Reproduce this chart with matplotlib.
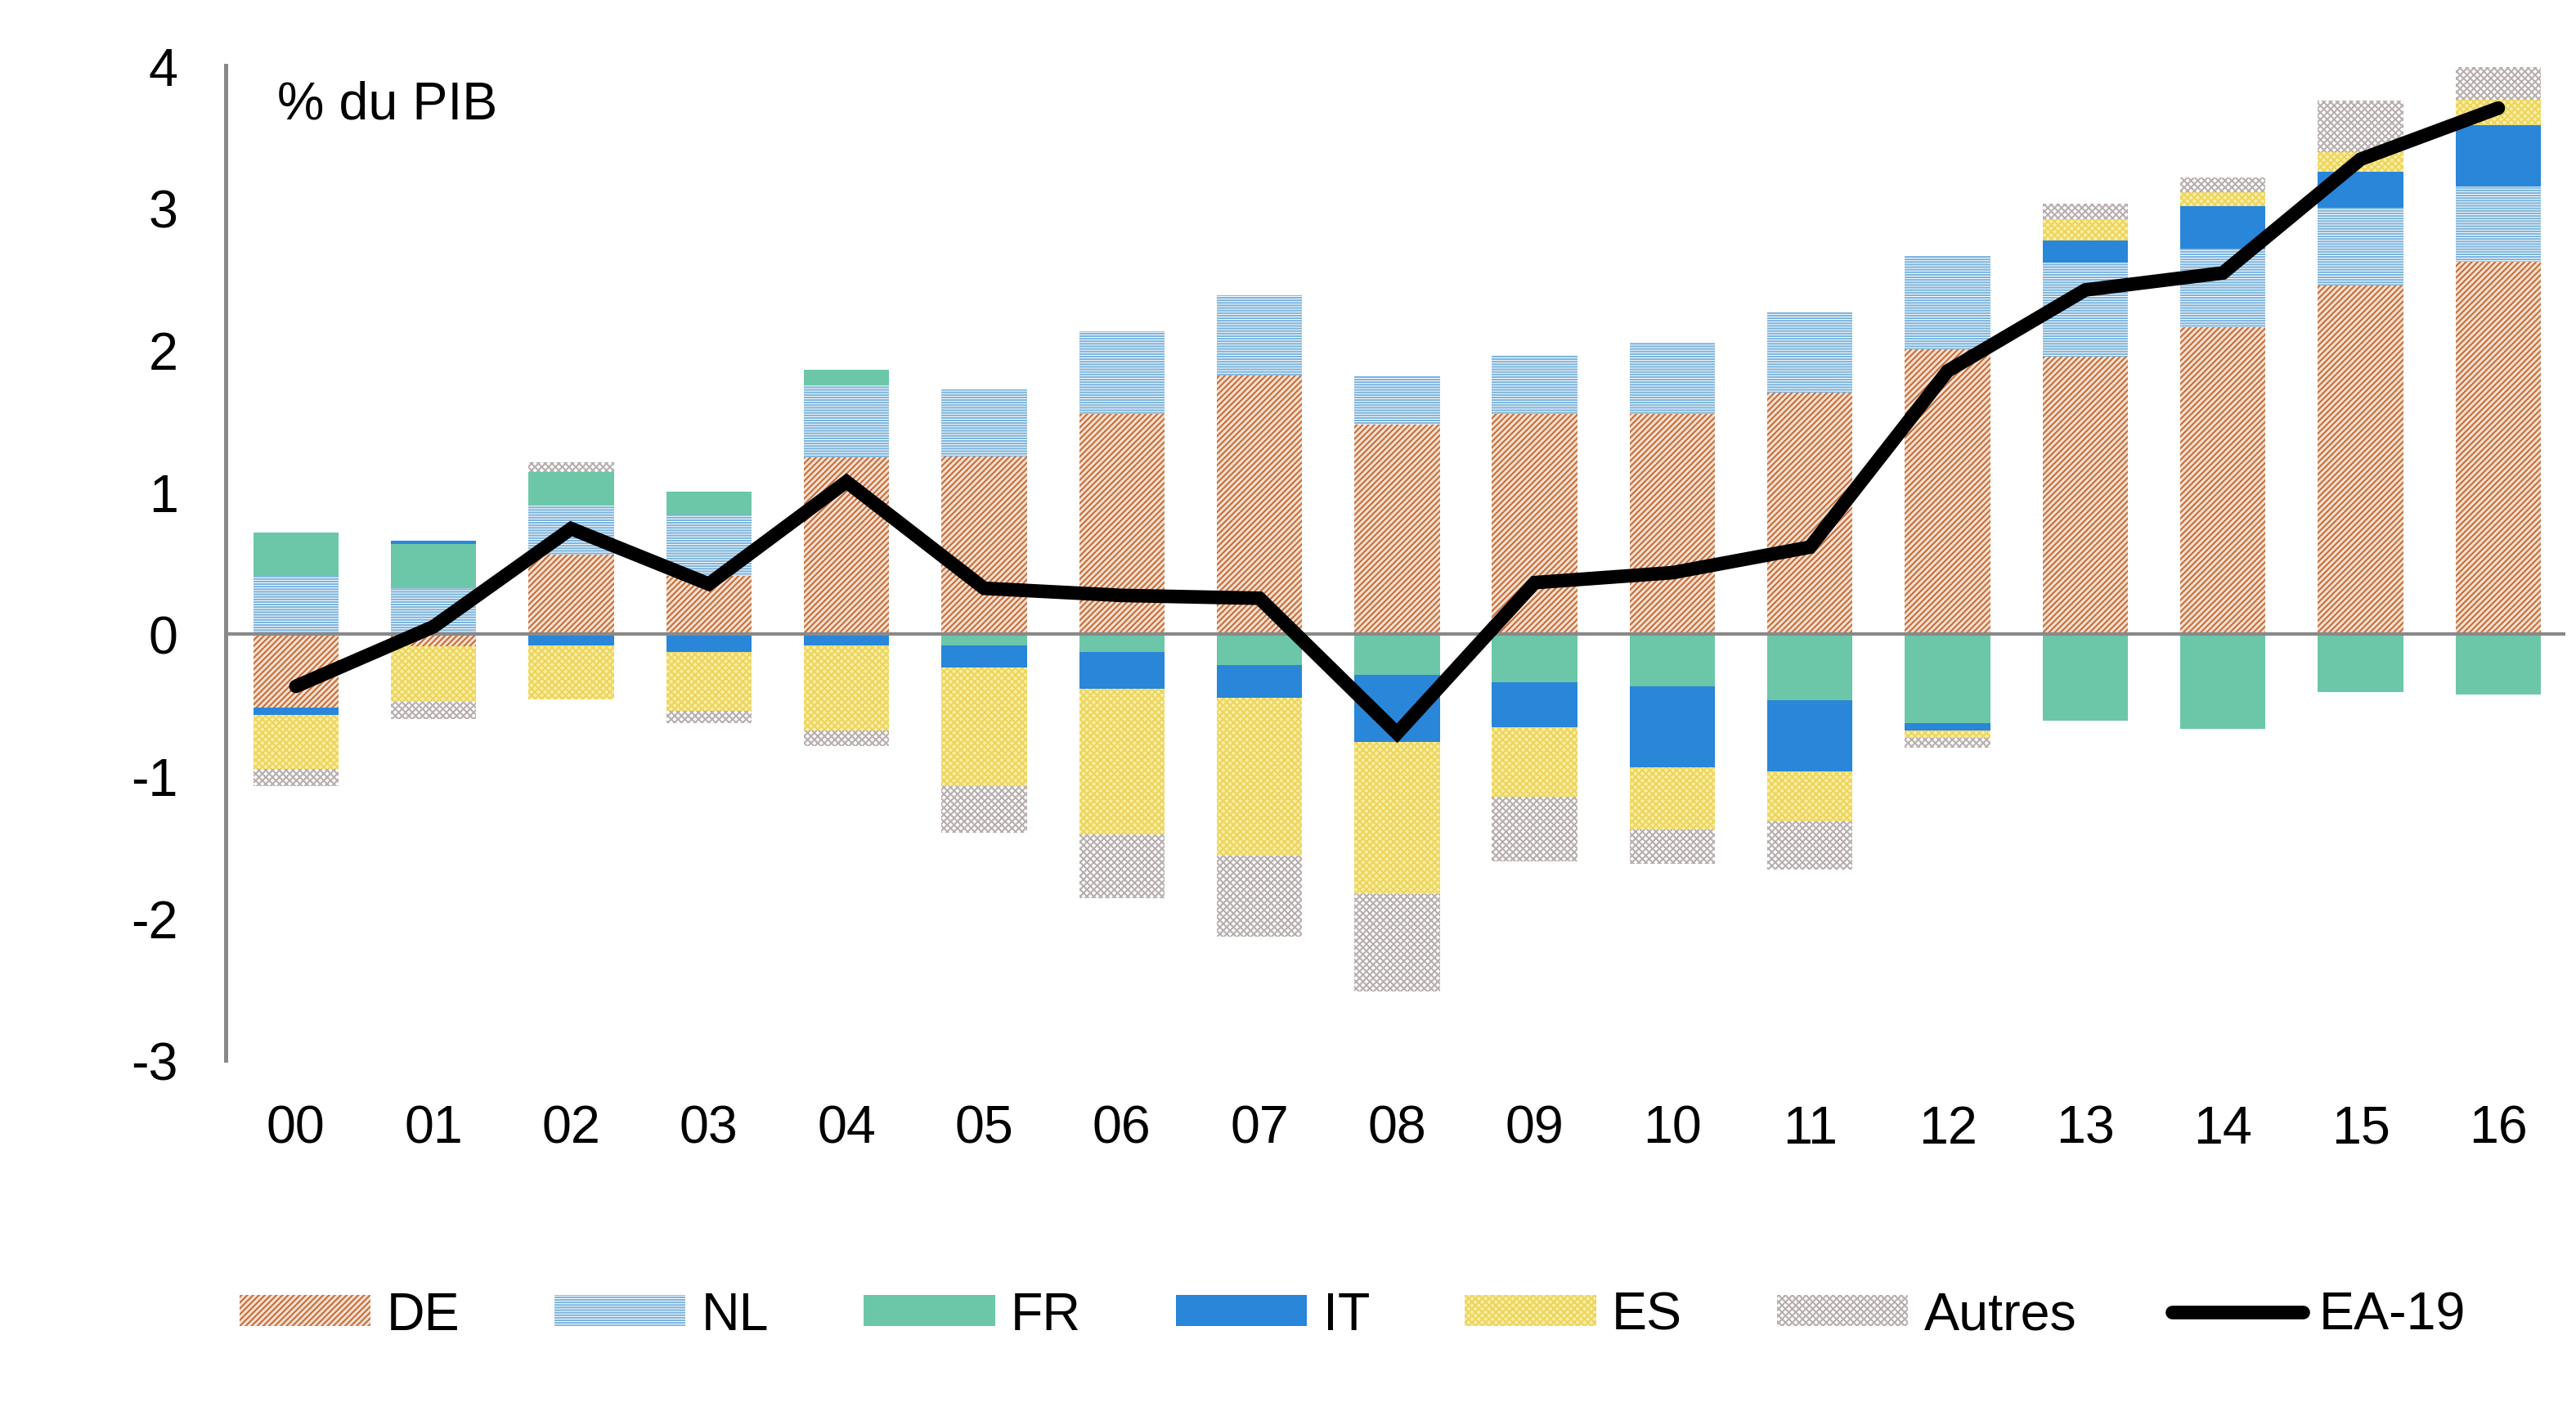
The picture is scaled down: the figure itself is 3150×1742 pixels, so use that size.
import numpy as np
import matplotlib
matplotlib.use('Agg')
import matplotlib.pyplot as plt

# contributions par pays au solde courant de la zone euro, % du PIB
years = ['00', '01', '02', '03', '04', '05', '06', '07', '08',
         '09', '10', '11', '12', '13', '14', '15', '16']
DE = [-0.52, -0.09, 0.56, 0.41, 1.24, 1.25, 1.55, 1.82, 1.47,
      1.55, 1.55, 1.70, 2.00, 1.95, 2.16, 2.45, 2.62]
NL = [0.41, 0.32, 0.34, 0.43, 0.51, 0.47, 0.58, 0.56, 0.35,
      0.41, 0.50, 0.57, 0.66, 0.66, 0.55, 0.55, 0.53]
FR = [0.30, 0.31, 0.24, 0.16, 0.11, -0.08, -0.13, -0.22, -0.29,
      -0.34, -0.37, -0.47, -0.63, -0.61, -0.67, -0.41, -0.43]
IT = [-0.05, 0.025, -0.08, -0.13, -0.08, -0.16, -0.26, -0.23, -0.47,
      -0.32, -0.57, -0.50, -0.05, 0.16, 0.30, 0.25, 0.43]
ES = [-0.38, -0.39, -0.38, -0.41, -0.60, -0.83, -1.02, -1.11, -1.07,
      -0.49, -0.44, -0.35, -0.05, 0.15, 0.10, 0.14, 0.18]
AUTRES = [-0.12, -0.12, 0.07, -0.09, -0.11, -0.33, -0.45, -0.57, -0.69,
          -0.45, -0.24, -0.34, -0.07, 0.11, 0.10, 0.36, 0.23]
EA19 = [-0.37, 0.05, 0.74, 0.35, 1.07, 0.32, 0.27, 0.25, -0.70,
        0.36, 0.43, 0.61, 1.85, 2.42, 2.54, 3.34, 3.70]

plt.rcParams['font.family'] = ['Liberation Sans', 'DejaVu Sans']
plt.rcParams['axes.unicode_minus'] = False
plt.rcParams['hatch.linewidth'] = 0.5

# name, values, face colour, hatch colour, hatch
series = [
    ('DE', DE, '#F6E2D2', '#C86C3A', '/' * 14),
    ('NL', NL, 'white', '#7AB3DC', '-' * 16),
    ('FR', FR, '#6CC7A8', '#6CC7A8', None),
    ('IT', IT, '#2986D9', '#2986D9', None),
    ('ES', ES, '#F9EEA6', '#EDD45A', 'x' * 12),
    ('Autres', AUTRES, 'white', '#B8AEAE', 'x' * 12),
]

fs = 15.5
fig = plt.figure(figsize=(10.5, 5.81), dpi=300)
ax = fig.add_axes([0.0876, 0.256, 0.996 - 0.0876, 0.9535 - 0.256])

x = np.arange(len(years))
pos = np.zeros(len(years))
neg = np.zeros(len(years))
handles = []
for name, vals, face, hcol, hatch in series:
    v = np.array(vals)
    base = np.where(v >= 0, pos, neg)
    b = ax.bar(x, v, 0.62, bottom=base, color=face, edgecolor=hcol,
               linewidth=0, hatch=hatch, label=name, zorder=2)
    handles.append(b)
    pos += np.clip(v, 0, None)
    neg += np.clip(v, None, 0)

ax.axhline(0, color='#898989', lw=1.0, zorder=3)
line, = ax.plot(x, EA19, color='black', lw=4, solid_capstyle='round',
                solid_joinstyle='miter', zorder=4, label='EA-19')
handles.append(line)

ax.set_xlim(-0.51, 16.49)
ax.set_ylim(-3, 4)
ax.set_yticks(range(-3, 5))
ax.set_xticks(x)
ax.set_xticklabels(years)
ax.tick_params(axis='y', length=0, pad=14, labelsize=fs)
ax.tick_params(axis='x', length=0, pad=13, labelsize=fs)
for s in ['top', 'right', 'bottom']:
    ax.spines[s].set_visible(False)
ax.spines['left'].set_color('#888888')
ax.spines['left'].set_linewidth(1.2)

fig.text(0.1076, 0.926, '% du PIB', fontsize=fs, va='center')

ax.legend(handles=handles, ncol=7, frameon=False, fontsize=fs,
          handlelength=2.48, handleheight=0.53, handletextpad=0.3,
          columnspacing=1.8, loc='center', bbox_to_anchor=(0.525, 0.077),
          bbox_transform=fig.transFigure)

fig.savefig('out.png', dpi=300)
